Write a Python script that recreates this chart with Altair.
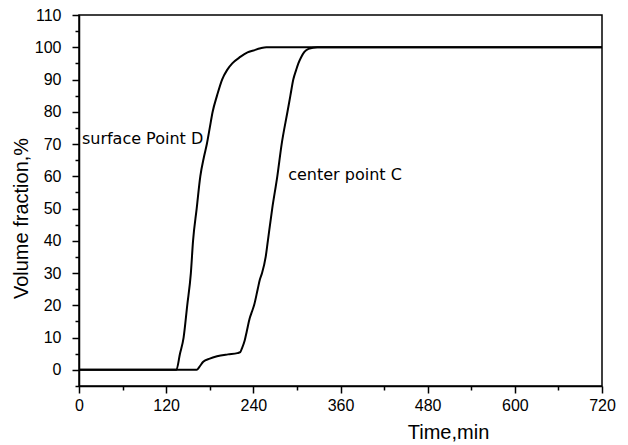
import altair as alt
import pandas as pd

# Surface point D
time_d = [0, 134, 139, 144, 149, 154, 157, 162, 167, 172, 176, 180, 184, 190, 197, 204, 211, 222, 232, 240, 250, 258, 720]
frac_d = [0, 0, 5, 10, 20, 30, 40, 50, 60, 66, 70, 75, 80, 85, 90, 93, 95, 97, 98.4, 99, 99.7, 100, 100]

# Center point C
time_c = [0, 162, 166, 171, 180, 190, 205, 218, 222, 224, 228, 231, 235, 238, 241, 246, 249, 252, 257, 260, 266, 273, 279, 287, 291, 295, 299, 302, 306, 310, 316, 328, 720]
frac_c = [0, 0, 1, 2.5, 3.5, 4.2, 4.8, 5.2, 5.5, 6.5, 9, 12, 16, 18, 20, 25, 28, 30, 35, 40, 50, 60, 70, 80, 85, 90, 93, 95, 97, 98.5, 99.5, 100, 100]

labels = ["surface Point D", "center point C"]
label_time = [4, 288]
label_frac = [70, 59]

x_ticks = [0, 60, 120, 180, 240, 300, 360, 420, 480, 540, 600, 660, 720]
y_ticks = [-5, 0, 5, 10, 15, 20, 25, 30, 35, 40, 45, 50, 55, 60, 65, 70, 75, 80, 85, 90, 95, 100, 105, 110]

df = pd.concat([
    pd.DataFrame({"t": time_d, "v": frac_d, "s": "D"}),
    pd.DataFrame({"t": time_c, "v": frac_c, "s": "C"}),
])
lab = pd.DataFrame({"t": label_time, "v": label_frac, "text": labels})

xscale = alt.Scale(domain=[0, 720], nice=False, zero=False)
yscale = alt.Scale(domain=[-5, 110], nice=False, zero=False)

xaxis = alt.Axis(
    values=x_ticks, tickCount=100, title="Time,min", grid=False,
    labelExpr="datum.value % 120 === 0 ? datum.label : ''",
    tickSize={"condition": {"test": "datum.value % 120 === 0", "value": 7}, "value": 4},
    labelPadding=4, labelFont="Liberation Sans", labelFontSize=16, labelColor="black",
    labelFlush=False, labelOverlap=False,
    titleFont="Liberation Sans", titleFontSize=20, titleFontWeight="normal", titleColor="black",
    titleX=369, titleY=46, titleBaseline="middle", titleAlign="center",
    domainColor="black", domainWidth=1.5, tickColor="black", tickWidth=1.5,
)
yaxis = alt.Axis(
    values=y_ticks, tickCount=100, title="Volume fraction,%", grid=False,
    labelExpr="datum.value % 10 === 0 ? datum.label : ''",
    tickSize={"condition": {"test": "datum.value % 10 === 0", "value": 7}, "value": 4},
    labelPadding=11, labelFont="Liberation Sans", labelFontSize=16, labelColor="black",
    labelFlush=False, labelOverlap=False,
    titleFont="Liberation Sans", titleFontSize=20, titleFontWeight="normal", titleColor="black",
    titleX=-58, titleY=203, titleBaseline="middle", titleAlign="center", titleAngle=270,
    domainColor="black", domainWidth=1.5, tickColor="black", tickWidth=1.5,
)

lines = alt.Chart(df).mark_line(color="black", strokeWidth=2, interpolate="monotone").encode(
    x=alt.X("t:Q", scale=xscale, axis=xaxis),
    y=alt.Y("v:Q", scale=yscale, axis=yaxis),
    detail="s:N",
)

text = alt.Chart(lab).mark_text(
    align="left", baseline="alphabetic", font="DejaVu Sans", fontSize=16, color="black"
).encode(
    x=alt.X("t:Q", scale=xscale),
    y=alt.Y("v:Q", scale=yscale),
    text="text:N",
)

chart = alt.layer(lines, text).properties(
    width=523, height=371,
    autosize=alt.AutoSizeParams(type="none"),
    padding={"left": 71, "top": 7, "right": 18, "bottom": 58},
    background="white",
).configure_view(stroke="black", strokeWidth=1.5)

chart.save("out.html", embed_options={"renderer": "svg", "actions": False})
